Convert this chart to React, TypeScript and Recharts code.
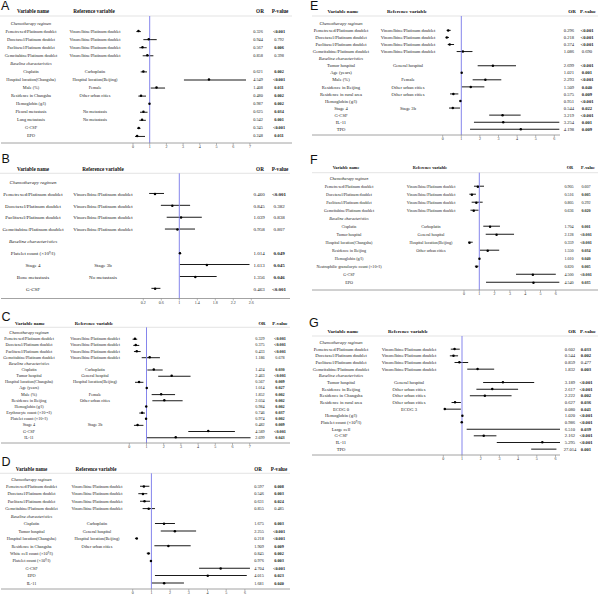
import React from 'react';
import { ComposedChart, Bar, Line, XAxis, YAxis, ReferenceLine } from 'recharts';

const SERIF = '"Liberation Serif", "Times New Roman", Times, serif';
const SANS = '"Liberation Sans", Arial, Helvetica, sans-serif';

const CHEMO = 'Chemotherapy regimen';
const BASE = 'Baseline characteristics';
const PEM = 'Pemetrexed/Platinum doublet';
const DOC = 'Docetaxel/Platinum doublet';
const PAC = 'Paclitaxel/Platinum doublet';
const GEM = 'Gemcitabine/Platinum doublet';
const VIN = 'Vinorelbine/Platinum doublet';

// ---------- Panel A ----------
const A_names = [CHEMO, PEM, DOC, PAC, GEM, BASE, 'Cisplatin', 'Hospital location(Changsha)', 'Male (%)', 'Residence in Changsha', 'Hemoglobin (g/l)', 'Pleural  metastasis', 'Lung metastasis', 'G-CSF', 'EPO'];
const A_refs = ['', VIN, VIN, VIN, VIN, '', 'Carboplatin', 'Hospital location(Beijing)', 'Female', 'Other urban cities', '', 'No metastasis', 'No metastasis', '', ''];
const A_or = [null, 0.326, 0.944, 0.567, 0.858, null, 0.621, 4.549, 1.408, 0.480, 0.987, 0.625, 0.542, 0.345, 0.248];
const A_lo = [null, 0.20, 0.62, 0.38, 0.58, null, 0.46, 3.05, 1.06, 0.32, 0.975, 0.42, 0.38, 0.25, 0.12];
const A_hi = [null, 0.47, 1.42, 0.82, 1.22, null, 0.84, 6.77, 1.92, 0.78, 0.999, 0.87, 0.77, 0.45, 0.72];
const A_p = ['', '<0.001', '0.792', '0.006', '0.398', '', '0.002', '<0.001', '0.011', '0.002', '0.002', '0.034', '0.001', '<0.001', '0.011'];
const A_ticks = [0, 1, 2, 3, 4, 5, 6, 7];

// ---------- Panel B ----------
const B_names = [CHEMO, PEM, DOC, PAC, GEM, BASE, 'Platelet count (×10⁹/l)', 'Stage 4', 'Bone metastasis', 'G-CSF'];
const B_refs = ['', VIN, VIN, VIN, VIN, '', '', 'Stage 3b', 'No metastasis', ''];
const B_or = [null, 0.460, 0.845, 1.039, 0.958, null, 1.014, 1.613, 1.356, 0.463];
const B_lo = [null, 0.33, 0.59, 0.72, 0.68, null, 1.001, 1.01, 1.01, 0.38];
const B_hi = [null, 0.66, 1.24, 1.50, 1.35, null, 1.028, 2.56, 1.83, 0.58];
const B_p = ['', '<0.001', '0.382', '0.838', '0.807', '', '0.049', '0.045', '0.046', '<0.001'];
const B_ticks = [0.2, 0.6, 1, 1.4, 1.8, 2.2, 2.6];

// ---------- Panel C ----------
const C_names = [CHEMO, PEM, DOC, PAC, GEM, BASE, 'Cisplatin', 'Tumor hospital', 'Hospital location(Changsha)', 'Age (years)', 'Male (%)', 'Residence in Beijing', 'Hemoglobin (g/l)', 'Erythrocyte count (×10¹²/l)', 'Platelet count (×10⁹/l)', 'Stage 4', 'G-CSF', 'IL-11'];
const C_refs = ['', VIN, VIN, VIN, VIN, '', 'Carboplatin', 'General hospital', 'Hospital location(Beijing)', '', 'Female', 'Other urban cities', '', '', '', 'Stage 3b', '', ''];
const C_or = [null, 0.329, 0.375, 0.433, 1.186, null, 1.424, 2.463, 0.567, 1.014, 1.852, 2.034, 0.984, 0.746, 0.974, 0.482, 4.589, 2.699];
const C_lo = [null, 0.19, 0.23, 0.27, 0.72, null, 1.05, 1.68, 0.33, 1.002, 1.30, 1.34, 0.975, 0.58, 0.96, 0.27, 3.43, 1.01];
const C_hi = [null, 0.46, 0.58, 0.66, 1.78, null, 1.94, 3.56, 0.82, 1.027, 2.66, 3.10, 0.994, 0.91, 0.99, 0.82, 6.14, 7.05];
const C_p = ['', '<0.001', '<0.001', '<0.001', '0.678', '', '0.030', '<0.001', '0.009', '0.027', '0.002', '0.002', '0.002', '0.037', '0.002', '0.009', '<0.001', '0.043'];
const C_ticks = [0, 1, 2, 3, 4, 5, 6, 7];

// ---------- Panel D ----------
const D_names = [CHEMO, PEM, DOC, PAC, GEM, BASE, 'Cisplatin', 'Tumor hospital', 'Hospital location(Changsha)', 'Residence in Changsha', 'White cell count (×10⁹/l)', 'Platelet count (×10⁹/l)', 'G-CSF', 'EPO', 'IL-11'];
const D_refs = ['', VIN, VIN, VIN, VIN, '', 'Carboplatin', 'General hospital', 'Hospital location(Beijing)', 'Other urban cities', '', '', '', '', ''];
const D_or = [null, 0.597, 0.546, 0.631, 0.855, null, 1.675, 2.255, 0.218, 1.909, 0.845, 0.976, 4.704, 4.015, 1.681];
const D_lo = [null, 0.39, 0.30, 0.39, 0.53, null, 1.19, 1.50, 0.12, 1.16, 0.75, 0.96, 3.55, 1.19, 1.01];
const D_hi = [null, 0.89, 0.78, 0.93, 1.19, null, 2.26, 3.39, 0.25, 3.10, 0.93, 0.99, 6.27, 6.10, 2.74];
const D_p = ['', '0.008', '0.003', '0.024', '0.485', '', '0.003', '<0.001', '<0.001', '0.009', '0.002', '0.003', '<0.001', '0.023', '0.040'];
const D_ticks = [0, 1, 2, 3, 4, 5, 6];

// ---------- Panel E ----------
const E_names = [CHEMO, PEM, DOC, PAC, GEM, BASE, 'Tumor hospital', 'Age (years)', 'Male (%)', 'Residence in Beijing', 'Residence in rural area', 'Hemoglobin (g/l)', 'Stage 4', 'G-CSF', 'IL-11', 'TPO'];
const E_refs = ['', VIN, VIN, VIN, VIN, '', 'General hospital', '', 'Female', 'Other urban cities', 'Other urban cities', '', 'Stage 3b', '', '', ''];
const E_or = [null, 0.296, 0.218, 0.374, 1.086, null, 2.699, 1.021, 2.293, 1.509, 0.575, 0.951, 0.544, 3.219, 3.254, 4.198];
const E_lo = [null, 0.21, 0.16, 0.27, 0.75, null, 1.88, 1.009, 1.61, 1.02, 0.39, 0.93, 0.34, 2.50, 1.68, 1.47];
const E_hi = [null, 0.43, 0.34, 0.61, 1.60, null, 3.94, 1.034, 3.15, 2.24, 0.84, 0.97, 0.93, 4.19, 6.27, 6.27];
const E_p = ['', '<0.001', '<0.001', '<0.001', '0.690', '', '<0.001', '0.001', '<0.001', '0.040', '0.009', '<0.001', '0.022', '<0.001', '0.001', '0.009'];
const E_ticks = [0, 1, 2, 3, 4, 5, 6];

// ---------- Panel F ----------
const F_names = [CHEMO, PEM, DOC, PAC, GEM, BASE, 'Cisplatin', 'Tumor hospital', 'Hospital location(Changsha)', 'Residence in Beijing', 'Hemoglobin (g/l)', 'Neutrophilic granulocyte count (×10⁹/l)', 'G-CSF', 'EPO'];
const F_refs = ['', VIN, VIN, VIN, VIN, '', 'Carboplatin', 'General hospital', 'Hospital location(Beijing)', 'Other urban cities', '', '', '', ''];
const F_or = [null, 0.905, 0.516, 0.805, 0.636, null, 1.704, 2.128, 0.359, 1.550, 1.010, 0.820, 4.500, 4.540];
const F_lo = [null, 0.65, 0.35, 0.50, 0.42, null, 1.26, 1.42, 0.26, 1.04, 1.001, 0.71, 3.40, 1.44];
const F_hi = [null, 1.31, 0.78, 1.22, 0.95, null, 2.35, 3.27, 0.57, 2.30, 1.020, 0.95, 6.00, 6.23];
const F_p = ['', '0.607', '0.005', '0.292', '0.020', '', '0.001', '<0.001', '<0.001', '0.034', '0.040', '0.005', '<0.001', '0.035'];
const F_ticks = [0, 1, 2, 3, 4, 5, 6];

// ---------- Panel G ----------
const G_names = [CHEMO, PEM, DOC, PAC, GEM, BASE, 'Tumor hospital', 'Residence in Beijing', 'Residence in Changsha', 'Residence in rural area', 'ECOG 0', 'Hemoglobin (g/l)', 'Platelet count (×10⁹/l)', 'Large cell', 'G-CSF', 'IL-11', 'TPO'];
const G_refs = ['', VIN, VIN, VIN, VIN, '', 'General hospital', 'Other urban cities', 'Other urban cities', 'Other urban cities', 'ECOG 3', '', '', '', '', '', ''];
const G_or = [null, 0.602, 0.544, 0.859, 1.832, null, 3.189, 2.617, 2.222, 0.627, 0.080, 1.020, 0.986, 6.510, 2.162, 5.295, 27.014];
const G_lo = [null, 0.40, 0.35, 0.60, 1.28, null, 2.13, 1.77, 1.42, 0.44, 0.03, 1.005, 0.98, 1.25, 1.63, 2.86, 4.70];
const G_hi = [null, 0.88, 0.79, 1.33, 2.72, null, 4.86, 4.00, 3.65, 0.94, 0.94, 1.035, 0.992, 33.9, 2.84, 9.80, 6.05];
const G_p = ['', '0.033', '0.002', '0.477', '0.003', '', '<0.001', '<0.001', '0.002', '0.036', '0.041', '<0.001', '<0.001', '0.039', '<0.001', '<0.001', '0.001'];
const G_ticks = [0, 1, 2, 3, 4, 5, 6];

const HEADERS = ['Variable name', 'Reference variable', 'OR', 'P-value'];

type Row = { cat: string; label: string; refVar: string; or: number | null; ci: number[] | null; pv: string };

function makeRows(names: string[], refs: string[], ors: (number | null)[], los: (number | null)[], his: (number | null)[], ps: string[]): Row[] {
  return names.map((label, i) => ({
    cat: `r${i}`,
    label,
    refVar: refs[i],
    or: ors[i],
    ci: ors[i] === null ? null : [los[i] as number, his[i] as number],
    pv: ps[i],
  }));
}

type Lay = {
  letter: string; left: number; top: number; width: number; height: number;
  plotLeft: number; plotRight: number; plotTop: number; axisY: number;
  padTop: number; padBottom: number; x0: number; ppu: number;
  cols: number[]; headCols: number[]; headY: number; lineX: number[];
  letterX: number; letterY: number; fs: number; headFs: number; tickFs: number;
};

const LAY_A: Lay = { letter: 'A', left: 0, top: 0, width: 300, height: 152, plotLeft: 1, plotRight: 292, plotTop: 16, axisY: 143, padTop: 3, padBottom: 3, x0: 133, ppu: 16.7, cols: [31, 95, 258, 279], headCols: [33, 94, 260, 280], headY: 11, lineX: [0, 292], letterX: 1, letterY: 10, fs: 4.3, headFs: 5.2, tickFs: 4 };
const LAY_B: Lay = { letter: 'B', left: 0, top: 146, width: 300, height: 160, plotLeft: 1, plotRight: 290, plotTop: 27.3, axisY: 152.5, padTop: 2.8, padBottom: 3.8, x0: 134.3, ppu: 45, cols: [33, 103, 259, 279], headCols: [33, 103, 260, 280], headY: 22.7, lineX: [0, 290], letterX: 1.5, letterY: 17, fs: 5, headFs: 5.2, tickFs: 4 };
const LAY_C: Lay = { letter: 'C', left: 0, top: 290, width: 300, height: 160, plotLeft: 1, plotRight: 290, plotTop: 37.3, axisY: 153, padTop: 2.3, padBottom: 2.7, x0: 129.3, ppu: 17.2, cols: [29, 95, 260, 280], headCols: [30, 94, 262, 280], headY: 33.3, lineX: [0, 290], letterX: 1.5, letterY: 31, fs: 4.2, headFs: 4.8, tickFs: 4 };
const LAY_D: Lay = { letter: 'D', left: 0, top: 440, width: 300, height: 156, plotLeft: 1, plotRight: 290, plotTop: 33.3, axisY: 149, padTop: 2, padBottom: 2, x0: 132.7, ppu: 18.7, cols: [31.5, 97, 259, 279], headCols: [31.5, 96, 258, 279], headY: 29.3, lineX: [0, 290], letterX: 1.5, letterY: 26, fs: 4.3, headFs: 5.1, tickFs: 4 };
const LAY_E: Lay = { letter: 'E', left: 300, top: 0, width: 300, height: 146, plotLeft: 12, plotRight: 260, plotTop: 16, axisY: 135, padTop: 3.8, padBottom: 2.2, x0: 142.7, ppu: 18.6, cols: [41, 108, 269, 287], headCols: [43, 107, 272, 288], headY: 11, lineX: [12, 298], letterX: 10, letterY: 10, fs: 4.6, headFs: 5, tickFs: 4 };
const LAY_F: Lay = { letter: 'F', left: 300, top: 146, width: 300, height: 152, plotLeft: 12, plotRight: 298, plotTop: 26.7, axisY: 144, padTop: 2, padBottom: 3.3, x0: 164, ppu: 15.3, cols: [49, 131, 269, 286], headCols: [46, 130, 270, 288], headY: 21.7, lineX: [12, 298], letterX: 10, letterY: 18, fs: 4.1, headFs: 4.3, tickFs: 4 };
const LAY_G: Lay = { letter: 'G', left: 300, top: 290, width: 300, height: 175, plotLeft: 12, plotRight: 260, plotTop: 46, axisY: 165, padTop: 3, padBottom: 2.7, x0: 143.3, ppu: 18.7, cols: [41, 109, 270, 286], headCols: [43, 108, 272, 288], headY: 41.7, lineX: [12, 298], letterX: 9, letterY: 37, fs: 4.6, headFs: 5, tickFs: 4 };

const Y_AXIS_W = 1;

function isSig(p: string) {
  if (!p) return false;
  if (p.startsWith('<')) return true;
  return parseFloat(p) < 0.05;
}

function Panel({ L, rows, ticks }: { L: Lay; rows: Row[]; ticks: number[] }) {
  const domain = [(L.plotLeft - L.x0) / L.ppu, (L.plotRight - L.x0) / L.ppu];
  const byCat: Record<string, Row> = {};
  rows.forEach((r) => { byCat[r.cat] = r; });
  const renderRow = (props: any) => {
    const r = byCat[String(props.payload && props.payload.value)];
    const y = props.y;
    if (!r) return <g />;
    const section = r.or === null;
    return (
      <g fontFamily={SERIF} fontSize={L.fs} fill="#222">
        <text x={L.cols[0]} y={y} dy="0.35em" textAnchor="middle" fontStyle={section ? 'italic' : 'normal'}>{r.label}</text>
        {r.refVar ? <text x={L.cols[1]} y={y} dy="0.35em" textAnchor="middle">{r.refVar}</text> : null}
        {r.or !== null ? <text x={L.cols[2]} y={y} dy="0.35em" textAnchor="middle">{r.or.toFixed(3)}</text> : null}
        {r.pv ? <text x={L.cols[3]} y={y} dy="0.35em" textAnchor="middle" fontWeight={isSig(r.pv) ? 'bold' : 'normal'}>{r.pv}</text> : null}
      </g>
    );
  };
  return (
    <div style={{ position: 'absolute', left: L.left, top: L.top, width: L.width, height: L.height }}>
      <svg width={L.width} height={L.height} style={{ position: 'absolute', left: 0, top: 0 }}>
        <text x={L.letterX} y={L.letterY} fontFamily={SANS} fontSize={12.5} fill="#111">{L.letter}</text>
        <g fontFamily={SERIF} fontSize={L.headFs} fontWeight="bold" fill="#111">
          {HEADERS.map((h, i) => (
            <text key={h} x={L.headCols[i]} y={L.headY} dy="0.35em" textAnchor="middle">{h}</text>
          ))}
        </g>
        <line x1={L.lineX[0]} x2={L.lineX[1]} y1={L.plotTop} y2={L.plotTop} stroke="#dcdcdc" strokeWidth={0.8} />
      </svg>
      <div style={{ position: 'absolute', left: 0, top: 0 }}>
        <ComposedChart
          layout="vertical"
          width={L.width}
          height={L.height}
          data={rows}
          margin={{ top: L.plotTop, left: L.plotLeft - Y_AXIS_W, right: L.width - L.plotRight, bottom: 0 }}
        >
          <XAxis
            type="number"
            domain={domain}
            ticks={ticks}
            allowDataOverflow
            interval={0}
            height={L.height - L.axisY}
            tickSize={2}
            tickMargin={0.5}
            axisLine={{ stroke: '#8c8c8c', strokeWidth: 0.8 }}
            tickLine={{ stroke: '#8c8c8c', strokeWidth: 0.6 }}
            tick={{ fontSize: L.tickFs, fill: '#333', fontFamily: SERIF }}
          />
          <YAxis
            type="category"
            dataKey="cat"
            width={Y_AXIS_W}
            axisLine={false}
            tickLine={false}
            interval={0}
            padding={{ top: L.padTop, bottom: L.padBottom }}
            tick={renderRow}
          />
          <ReferenceLine x={1} stroke="#8585ec" strokeWidth={1} />
          <Bar dataKey="ci" barSize={1} fill="#1a1a1a" isAnimationActive={false} />
          <Line
            dataKey="or"
            stroke="none"
            dot={{ r: 1.25, fill: '#000', stroke: 'none' }}
            activeDot={false}
            isAnimationActive={false}
          />
        </ComposedChart>
      </div>
    </div>
  );
}

export default function App() {
  return (
    <div style={{ position: 'absolute', left: 0, top: 0, width: 600, height: 596, background: '#fff', overflow: 'hidden' }}>
      <Panel L={LAY_A} rows={makeRows(A_names, A_refs, A_or, A_lo, A_hi, A_p)} ticks={A_ticks} />
      <Panel L={LAY_B} rows={makeRows(B_names, B_refs, B_or, B_lo, B_hi, B_p)} ticks={B_ticks} />
      <Panel L={LAY_C} rows={makeRows(C_names, C_refs, C_or, C_lo, C_hi, C_p)} ticks={C_ticks} />
      <Panel L={LAY_D} rows={makeRows(D_names, D_refs, D_or, D_lo, D_hi, D_p)} ticks={D_ticks} />
      <Panel L={LAY_E} rows={makeRows(E_names, E_refs, E_or, E_lo, E_hi, E_p)} ticks={E_ticks} />
      <Panel L={LAY_F} rows={makeRows(F_names, F_refs, F_or, F_lo, F_hi, F_p)} ticks={F_ticks} />
      <Panel L={LAY_G} rows={makeRows(G_names, G_refs, G_or, G_lo, G_hi, G_p)} ticks={G_ticks} />
    </div>
  );
}
